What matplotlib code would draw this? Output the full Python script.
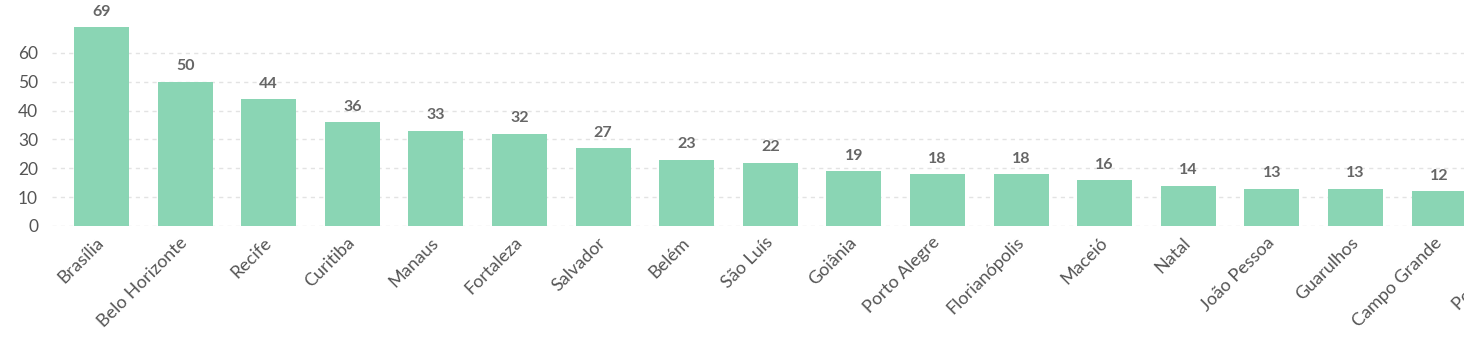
import matplotlib.pyplot as plt
from matplotlib.patches import Rectangle

cities = ['Brasília', 'Belo Horizonte', 'Recife', 'Curitiba', 'Manaus', 'Fortaleza',
          'Salvador', 'Belém', 'São Luís', 'Goiânia', 'Porto Alegre', 'Florianópolis',
          'Maceió', 'Natal', 'João Pessoa', 'Guarulhos', 'Campo Grande', 'Porto Velho']
counts = [69, 50, 44, 36, 33, 32, 27, 23, 22, 19, 18, 18, 16, 14, 13, 13, 12, 11]

plt.rcParams['font.family'] = ['Lato', 'DejaVu Sans']

W, H = 1482, 352
fig = plt.figure(figsize=(W / 100, H / 100), dpi=100)

# axes in pixels: left 52, zero line at 226, top at 27; pitch ~83.6 px per bar
pitch = 83.6
x0 = -(101.5 - 52) / pitch
x1 = 17.6
ax = fig.add_axes([52 / W, (H - 226) / H, (x1 - x0) * pitch / W, 199 / H])

xs = list(range(len(cities)))
ax.bar(xs, counts, width=0.658, color='#8AD5B4', zorder=2)
for x, v in zip(xs, counts):
    ax.annotate(str(v), (x, v), xytext=(0, 6), textcoords='offset points',
                ha='center', va='bottom', fontsize=11.5, fontweight='bold',
                color='#666666', clip_on=False)

ax.set_xlim(x0, x1)
ax.set_ylim(0, 69)
ax.set_yticks(range(0, 61, 10))
ax.set_xticks(xs)
ax.set_xticklabels(cities, rotation=45, ha='right', va='center',
                   rotation_mode='anchor', fontsize=13)
ax.tick_params(axis='both', length=0, labelcolor='#555555')
ax.tick_params(axis='y', pad=10, labelsize=12.5)
ax.tick_params(axis='x', pad=10)
ax.grid(axis='y', color='#e3e3e3', linestyle=(0, (3, 3)), linewidth=1, zorder=0)
ax.set_axisbelow(True)
for s in ax.spines.values():
    s.set_visible(False)

# the chart is cut off at the right, like a scrolled panel
fig.patches.append(Rectangle((1463.5 / W, 0), 1, 1, transform=fig.transFigure,
                             facecolor='white', edgecolor='none', zorder=10))

fig.savefig('out.png', dpi=100)
